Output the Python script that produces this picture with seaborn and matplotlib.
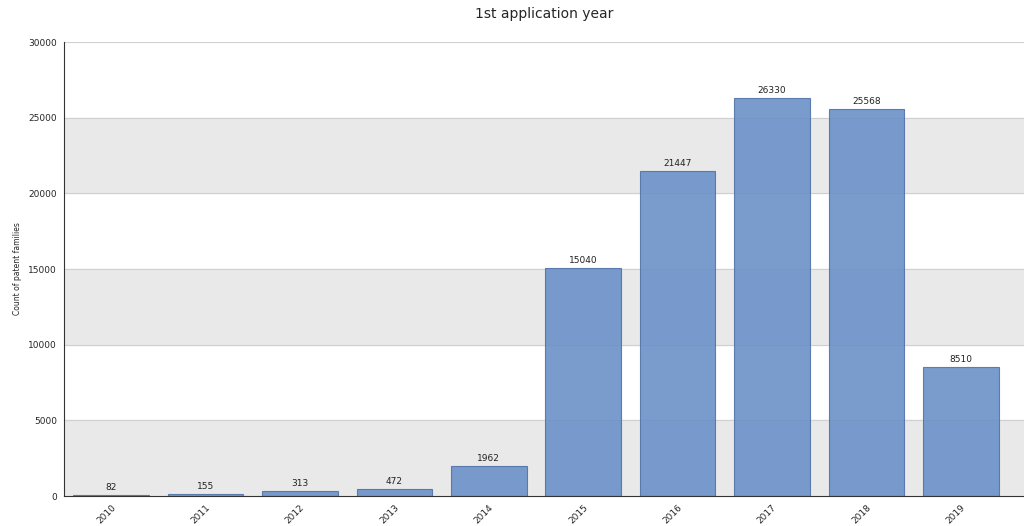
import pandas as pd
import seaborn as sns
import matplotlib.pyplot as plt

years = ["2010", "2011", "2012", "2013", "2014", "2015", "2016", "2017", "2018", "2019"]
counts = [82, 155, 313, 472, 1962, 15040, 21447, 26330, 25568, 8510]
y_ticks = [0, 5000, 10000, 15000, 20000, 25000, 30000]

df = pd.DataFrame({"year": years, "count": counts})

sns.set_style("white")
plt.rcParams["font.family"] = ["DejaVu Sans"]

fig = plt.figure(figsize=(10.24, 5.26), dpi=100)
ax = fig.add_axes([0.0625, 0.057, 0.9375, 0.863])

# alternating background bands
for i in range(0, 30000, 10000):
    ax.axhspan(i, i + 5000, color="#e9e9e9", zorder=0)
for t in y_ticks[1:]:
    ax.axhline(t, color="#d0d0d0", lw=0.8, zorder=0.5)

sns.barplot(data=df, x="year", y="count", color="#6b91c8", width=0.8,
            edgecolor="#4f73a8", linewidth=0.8, alpha=0.9, saturation=1, ax=ax, zorder=2)

for i, v in enumerate(counts):
    ax.text(i, v + 200, str(v), ha="center", va="bottom", fontsize=6.5, color="#222222")

ax.set_ylim(0, 30000)
ax.set_xlim(-0.5, 9.67)
ax.set_yticks(y_ticks)
ax.set_yticklabels([str(t) for t in y_ticks], fontsize=6.5)
ax.set_xticks(range(len(years)))
ax.set_xticklabels(years, rotation=45, ha="right", rotation_mode="anchor", fontsize=6.5)
ax.tick_params(axis="both", length=3, color="#333333", pad=2)
ax.set_xlabel("")
ax.set_ylabel("Count of patent families", fontsize=5.5)
ax.yaxis.set_label_coords(-0.044, 0.5)
ax.set_title("1st application year", fontsize=10, pad=17)

for s in ["top", "right"]:
    ax.spines[s].set_visible(False)
ax.spines["left"].set_color("#333333")
ax.spines["bottom"].set_color("#333333")

fig.savefig("out.png", dpi=100)
